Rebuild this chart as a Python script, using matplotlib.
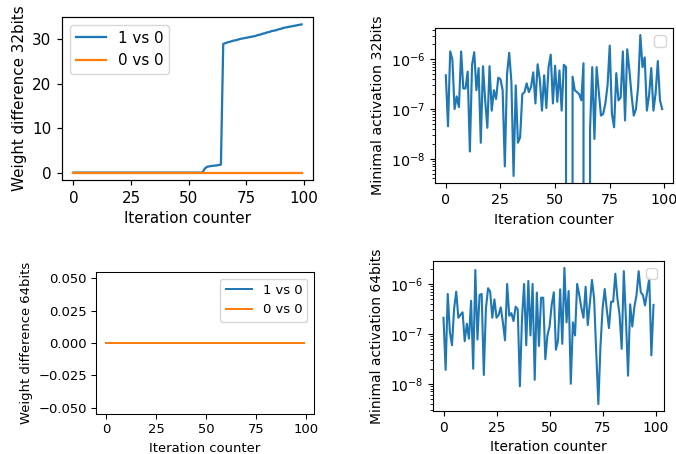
import numpy as np
import matplotlib
matplotlib.use("Agg")
import matplotlib.pyplot as plt

# iteration counter
iters = np.arange(100)
xticks = [0, 25, 50, 75, 100]

# weight difference, 32 bits
w32_1vs0 = [0.0] * 57 + [0.9, 1.3, 1.4, 1.5, 1.55, 1.6, 1.7, 1.8,
                         28.9, 29.1, 29.3, 29.4, 29.6, 29.7, 29.8, 30.0, 30.1, 30.2,
                         30.3, 30.4, 30.5, 30.6, 30.7, 30.9, 31.0, 31.2, 31.3, 31.5,
                         31.6, 31.8, 31.9, 32.0, 32.2, 32.3, 32.5, 32.6, 32.7, 32.8,
                         32.9, 33.0, 33.1, 33.2, 33.3]
w32_0vs0 = [0.0] * 100

# weight difference, 64 bits
w64_1vs0 = [0.0] * 100
w64_0vs0 = [0.0] * 100

# minimal activation, 32 bits (zeros fall off the log axis)
act32 = [4.8e-7, 4.5e-8, 1.45e-6, 1.0e-6, 1.0e-7, 1.8e-7, 1.1e-7, 1.45e-6, 2.6e-7, 2.6e-7,
         5.7e-7, 1.4e-8, 7.8e-7, 1.4e-6, 2.4e-7, 6.7e-7, 2.1e-8, 7.3e-7, 1.5e-7, 4.2e-8,
         7.3e-7, 9.3e-8, 2.4e-7, 1.6e-7, 4.3e-7, 4.0e-7, 2.4e-7, 7.0e-9, 5.0e-7, 1.36e-6,
         3.6e-7, 4.5e-9, 3.0e-7, 2.1e-8, 2.7e-8, 2.0e-7, 2.2e-7, 3.3e-7, 2.2e-7, 2.8e-7,
         5.5e-7, 1.3e-7, 8.0e-7, 4.0e-7, 9.3e-8, 4.8e-7, 1.05e-7, 7.0e-7, 1.25e-6, 1.3e-7,
         7.5e-7, 1.4e-7, 6.0e-7, 9.3e-8, 7.8e-7, 7.0e-7, 0.0, 0.0, 4.5e-7, 2.4e-7,
         2.2e-7, 2.0e-7, 1.5e-7, 8.4e-7, 0.0, 0.0, 4.0e-8, 7.0e-7, 2.5e-8, 7.0e-7,
         2.2e-7, 7.4e-8, 8.0e-8, 1.3e-7, 3.0e-7, 1.9e-6, 8.0e-8, 4.3e-8, 5.3e-7, 1.5e-7,
         1.7e-7, 1.45e-6, 5.9e-8, 1.6e-6, 6.0e-7, 1.9e-7, 7.4e-8, 1.0e-7, 2.8e-7, 3.1e-6,
         7.0e-7, 1.1e-6, 9.3e-8, 1.9e-7, 6.7e-7, 9.3e-8, 2.1e-7, 9.3e-7, 1.5e-7, 1.0e-7]

# minimal activation, 64 bits
act64 = [2.1e-7, 1.9e-8, 6.3e-7, 1.1e-7, 5.9e-8, 3.2e-7, 7.0e-7, 2.1e-7, 2.4e-7, 2.7e-7,
         7.1e-8, 1.6e-7, 8.0e-8, 4.6e-7, 2.0e-8, 1.9e-6, 7.7e-8, 6.0e-7, 6.3e-7, 1.5e-8,
         3.2e-7, 8.2e-7, 7.0e-7, 2.1e-7, 4.9e-7, 2.1e-7, 2.4e-7, 3.4e-7, 1.7e-7, 7.4e-8,
         1.0e-6, 2.3e-7, 2.6e-7, 1.8e-7, 3.5e-7, 3.1e-7, 8.9e-9, 2.0e-7, 1.0e-6, 5.9e-8,
         1.15e-6, 9.3e-8, 1.0e-6, 1.2e-8, 6.7e-7, 5.7e-8, 5.3e-7, 5.3e-7, 3.1e-8, 9.3e-8,
         1.4e-7, 3.8e-7, 6.8e-7, 4.8e-8, 7.4e-8, 7.8e-7, 6.3e-8, 2.1e-6, 1.7e-7, 7.2e-7,
         1.0e-8, 1.7e-7, 9.3e-8, 1.0e-6, 6.0e-7, 3.3e-7, 2.1e-7, 8.8e-7, 1.5e-7, 4.1e-7,
         1.2e-6, 5.1e-7, 4.3e-8, 3.9e-9, 5.7e-8, 3.2e-7, 7.9e-7, 3.0e-7, 1.3e-7, 4.4e-7,
         4.4e-7, 1.6e-6, 5.1e-7, 2.4e-7, 5.0e-8, 1.8e-6, 2.0e-7, 1.45e-8, 3.9e-7, 1.4e-7,
         3.5e-7, 6.0e-7, 1.8e-6, 6.8e-7, 6.0e-7, 3.7e-7, 6.8e-7, 1.3e-6, 3.7e-8, 3.8e-7]

W, H = 676, 454
fig = plt.figure(figsize=(W / 100, H / 100), dpi=100)

def box(l, t, r, b):
    return [l / W, 1 - b / H, (r - l) / W, (b - t) / H]

def panel(rect, s, ylabel, logy=False):
    # each panel of the original was drawn at a slightly different scale
    ax = fig.add_axes(box(*rect))
    ax.set_xlabel("Iteration counter", fontsize=10 * s)
    ax.set_ylabel(ylabel, fontsize=10 * s)
    if logy:
        ax.set_yscale("log")
    ax.tick_params(which="both", labelsize=10 * s, width=0.8 * s, pad=3.5 * s)
    ax.tick_params(which="major", length=3.5 * s)
    ax.tick_params(which="minor", length=2 * s, width=0.6 * s)
    for sp in ax.spines.values():
        sp.set_linewidth(0.8 * s)
    return ax

# top left
s1 = 1.086
ax1 = panel((62, 17, 313, 180), s1, "Weight difference 32bits")
ax1.plot(iters, w32_1vs0, lw=1.5 * s1, label="1 vs 0")
ax1.plot(iters, w32_0vs0, lw=1.5 * s1, label="0 vs 0")
ax1.set_xticks(xticks)
ax1.legend(loc="upper left", fontsize=10 * s1)

# top right
s2 = 1.026
ax2 = panel((435, 28, 673, 183), s2, "Minimal activation 32bits", logy=True)
ax2.plot(iters, act32, lw=1.5 * s2)
ax2.set_xticks(xticks)
ax2.legend(handles=[], labels=[], loc="upper right", fontsize=10 * s2)

# bottom left
s3 = 0.948
ax3 = panel((96, 272, 314, 414), s3, "Weight difference 64bits")
ax3.plot(iters, w64_1vs0, lw=1.5 * s3, label="1 vs 0")
ax3.plot(iters, w64_0vs0, lw=1.5 * s3, label="0 vs 0")
ax3.set_xticks(xticks)
ax3.legend(loc="upper right", fontsize=10 * s3)

# bottom right
s4 = 1.0
ax4 = panel((433, 261, 664, 411), s4, "Minimal activation 64bits", logy=True)
ax4.plot(iters, act64, lw=1.5 * s4)
ax4.set_xticks(xticks)
ax4.legend(handles=[], labels=[], loc="upper right", fontsize=10 * s4)

fig.savefig("out.png", dpi=100)
